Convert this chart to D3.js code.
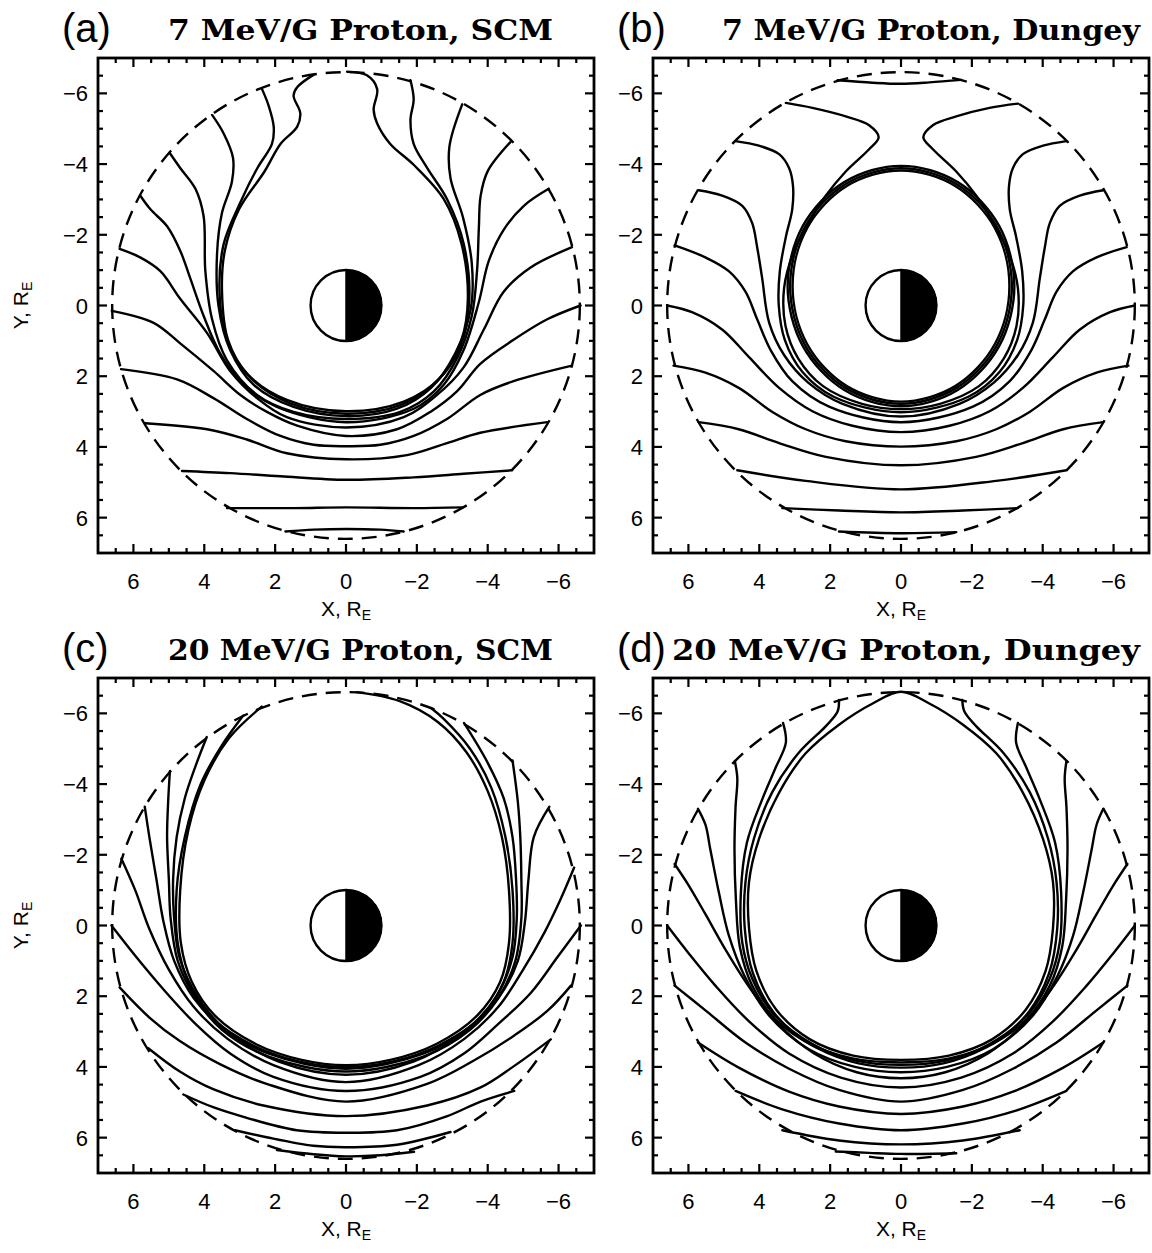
<!DOCTYPE html>
<html><head><meta charset="utf-8">
<script src="https://cdn.jsdelivr.net/npm/d3@7"></script>
<style>body{margin:0;background:#fff}</style></head>
<body><svg id="chart" width="1152" height="1253"></svg>
<script>
// ---------------- data ----------------
const panelLetters = ["(a)", "(b)", "(c)", "(d)"];
const panelTitles = ["7 MeV/G Proton, SCM", "7 MeV/G Proton, Dungey", "20 MeV/G Proton, SCM", "20 MeV/G Proton, Dungey"];
const xTickValues = [6, 4, 2, 0, -2, -4, -6];
const yTickValues = [-6, -4, -2, 0, 2, 4, 6];
const axisDomain = [-7, 7];
const boundaryRadius = 6.6;   // dashed outer boundary, R_E
const earthRadius = 1;        // R_E

// (a) 7 MeV/G proton, SCM : open drift paths [X, Y]
const pathsA = [
  [[1.71,6.39],[0.91,6.34],[0,6.32],[-0.97,6.34],[-1.63,6.39]],
  [[3.36,5.73],[1.48,5.73],[0,5.71],[-1.91,5.73],[-3.30,5.71]],
  [[4.63,4.68],[3.27,4.74],[1.85,4.83],[0,4.93],[-1.91,4.86],[-3.32,4.76],[-4.69,4.66]],
  [[5.67,3.33],[3.92,3.50],[2.80,3.79],[1.67,4.18],[0,4.35],[-1.72,4.23],[-2.85,3.89],[-3.79,3.60],[-5.68,3.30]],
  [[6.35,1.80],[4.77,2.09],[3.74,2.62],[2.80,3.21],[1.85,3.69],[0.91,3.94],[0,3.98],[-0.97,3.94],[-1.91,3.69],[-2.85,3.21],[-3.79,2.53],[-4.73,2.14],[-6.38,1.70]],
  [[6.61,0.15],[5.43,0.49],[4.68,1.07],[3.74,1.85],[2.98,2.53],[2.23,3.01],[1.38,3.40],[0,3.69],[-1.44,3.50],[-2.38,3.01],[-3.13,2.43],[-3.79,1.65],[-4.73,0.97],[-5.68,0.39],[-6.62,0]],
  [[6.39,-1.60],[5.81,-1.36],[5.24,-0.97],[4.68,-0.19],[3.92,0.78],[3.27,1.85],[2.51,2.62],[1.67,3.16],[0,3.45],[-1.63,3.16],[-2.57,2.53],[-3.32,1.75],[-3.89,0.68],[-4.45,-0.39],[-5.20,-1.07],[-6.38,-1.65]],
  [[5.81,-3.11],[5.52,-2.72],[5.05,-2.24],[4.68,-1.55],[4.40,-0.78],[4.02,0.29],[3.55,1.36],[2.89,2.24],[1.95,2.87],[0,3.30],[-1.91,2.92],[-2.76,2.24],[-3.32,1.26],[-3.75,-0.10],[-4.03,-1.26],[-4.45,-2.14],[-5.02,-2.82],[-5.72,-3.30]],
  [[4.98,-4.32],[4.68,-3.89],[4.25,-3.30],[4.02,-2.53],[3.97,-0.97],[3.78,0.39],[3.36,1.55],[2.51,2.53],[1.48,3.01],[0,3.21],[-1.53,3.01],[-2.48,2.43],[-3.15,1.46],[-3.55,0.30],[-3.70,-1.00],[-3.75,-2.20],[-3.80,-3.10],[-4.00,-3.80],[-4.64,-4.62]],
  [[3.78,-5.39],[3.45,-4.86],[3.19,-4.18],[3.22,-3.50],[3.50,-2.62],[3.64,-1.46],[3.60,0],[3.27,1.26],[2.61,2.24],[1.48,2.87],[0,3.13],[-1.44,2.92],[-2.40,2.33],[-3.08,1.36],[-3.52,0.10],[-3.55,-1.20],[-3.30,-2.50],[-2.95,-3.60],[-2.92,-4.50],[-3.28,-5.69]],
  [[2.37,-6.12],[2.18,-5.64],[2.04,-5.05],[2.09,-4.57],[2.50,-3.89],[2.98,-2.92],[3.45,-1.75],[3.57,-0.39],[3.36,0.97],[2.70,2.04],[1.57,2.77],[0,3.06],[-1.53,2.82],[-2.57,2.14],[-3.23,1.17],[-3.48,-0.19],[-3.32,-1.75],[-2.85,-3.01],[-2.29,-3.89],[-1.91,-4.57],[-1.82,-5.25],[-1.91,-5.83],[-1.82,-6.37]],
  [[0.91,-6.53],[1.38,-6.17],[1.48,-5.93],[1.29,-5.44],[1.38,-5.05],[1.85,-4.57],[2.30,-3.79],[3.02,-2.72],[3.42,-1.55],[3.50,-0.39],[3.33,0.97],[2.78,1.94],[1.67,2.67],[0,2.99],[-1.63,2.72],[-2.66,2.04],[-3.26,0.97],[-3.44,-0.19],[-3.26,-1.75],[-2.76,-3.01],[-1.91,-3.98],[-1.25,-4.57],[-0.88,-5.15],[-0.78,-5.54],[-0.88,-6.12],[-0.59,-6.51],[-0.03,-6.61]]
];
const loopsA = [];

// (b) 7 MeV/G proton, Dungey
const pathsB = [
  [[1.79,-6.37],[0.80,-6.30],[0,-6.27],[-0.80,-6.31],[-1.70,-6.38]],
  [[3.25,-5.73],[2.50,-5.59],[1.56,-5.35],[0.90,-5.10],[0.63,-4.76],[0.90,-4.42],[1.56,-3.79],[2.12,-3.11],[2.62,-2.33],[3.05,-1.46],[3.30,-0.49],[3.26,0.58],[2.90,1.50],[2.20,2.28],[1.10,2.78],[0,2.93],[-1.10,2.78],[-2.20,2.28],[-2.90,1.50],[-3.26,0.58],[-3.30,-0.49],[-3.05,-1.46],[-2.62,-2.33],[-2.12,-3.11],[-1.56,-3.79],[-0.90,-4.42],[-0.63,-4.76],[-0.90,-5.10],[-1.56,-5.35],[-2.50,-5.59],[-3.30,-5.71]],
  [[4.67,-4.65],[4.01,-4.52],[3.44,-4.28],[3.16,-3.89],[3.05,-3.40],[3.07,-2.72],[3.25,-1.94],[3.42,-0.97],[3.45,0],[3.28,0.97],[2.78,1.88],[1.90,2.58],[0,3.02],[-1.90,2.58],[-2.78,1.88],[-3.28,0.97],[-3.45,0],[-3.42,-0.97],[-3.25,-1.94],[-3.07,-2.72],[-3.05,-3.40],[-3.16,-3.89],[-3.44,-4.28],[-4.01,-4.52],[-4.67,-4.65]],
  [[5.71,-3.26],[5.05,-3.11],[4.48,-2.82],[4.20,-2.33],[4.06,-1.65],[3.92,-0.78],[3.72,0.49],[3.30,1.40],[2.62,2.18],[1.65,2.78],[0,3.14],[-1.65,2.78],[-2.62,2.18],[-3.30,1.40],[-3.72,0.49],[-3.92,-0.78],[-4.06,-1.65],[-4.20,-2.33],[-4.48,-2.82],[-5.05,-3.11],[-5.71,-3.26]],
  [[6.39,-1.70],[5.52,-1.36],[4.86,-0.97],[4.39,-0.39],[4.06,0.39],[3.68,1.26],[3.07,2.14],[2.03,2.86],[0,3.30],[-2.03,2.86],[-3.07,2.14],[-3.68,1.26],[-4.06,0.39],[-4.39,-0.39],[-4.86,-0.97],[-5.52,-1.36],[-6.37,-1.65]],
  [[6.60,0],[5.90,0.19],[5.05,0.68],[4.29,1.46],[3.44,2.33],[2.50,2.99],[1.37,3.40],[0,3.58],[-1.37,3.40],[-2.50,2.99],[-3.44,2.33],[-4.29,1.46],[-5.05,0.68],[-5.90,0.19],[-6.60,0]],
  [[6.42,1.70],[5.52,1.90],[4.58,2.33],[3.63,3.01],[2.69,3.50],[1.56,3.84],[0,3.99],[-1.56,3.84],[-2.69,3.50],[-3.63,3.01],[-4.58,2.33],[-5.52,1.90],[-6.42,1.70]],
  [[5.71,3.30],[4.58,3.50],[3.44,3.89],[2.12,4.28],[0,4.52],[-2.12,4.28],[-3.44,3.89],[-4.58,3.50],[-5.71,3.30]],
  [[4.62,4.66],[2.69,4.96],[0,5.20],[-2.69,4.96],[-4.67,4.66]],
  [[3.35,5.73],[1.75,5.80],[0,5.85],[-1.75,5.80],[-3.30,5.73]],
  [[1.75,6.39],[0,6.44],[-1.56,6.41]]
];
const loopsB = [
  [[0,-3.95],[1.60,-3.49],[2.77,-2.25],[3.20,-0.55],[2.77,1.15],[1.60,2.39],[0,2.85],[-1.60,2.39],[-2.77,1.15],[-3.20,-0.55],[-2.77,-2.25],[-1.60,-3.49]],
  [[0,-3.88],[1.57,-3.43],[2.71,-2.22],[3.13,-0.55],[2.71,1.12],[1.57,2.33],[0,2.78],[-1.57,2.33],[-2.71,1.12],[-3.13,-0.55],[-2.71,-2.22],[-1.57,-3.43]],
  [[0,-3.82],[1.53,-3.38],[2.65,-2.19],[3.06,-0.55],[2.65,1.09],[1.53,2.28],[0,2.72],[-1.53,2.28],[-2.65,1.09],[-3.06,-0.55],[-2.65,-2.19],[-1.53,-3.38]]
];

// (c) 20 MeV/G proton, SCM
const pathsC = [
  [[1.95,6.35],[0.92,6.47],[0,6.53],[-0.97,6.50],[-1.92,6.40]],
  [[3.13,5.79],[2.24,5.99],[0.92,6.23],[0,6.27],[-1.44,6.20],[-2.95,5.84]],
  [[4.59,4.78],[3.75,5.14],[2.80,5.44],[1.39,5.79],[0,5.86],[-1.44,5.79],[-2.86,5.39],[-3.80,4.98],[-4.75,4.68]],
  [[5.58,3.47],[4.69,4.13],[3.75,4.63],[2.33,5.09],[0,5.39],[-2.29,5.09],[-3.80,4.58],[-4.75,3.97],[-5.78,3.22]],
  [[6.39,1.75],[5.54,2.61],[4.69,3.27],[3.56,3.92],[2.24,4.48],[0,4.98],[-2.29,4.48],[-3.61,3.82],[-4.75,3.11],[-5.69,2.41],[-6.35,1.70]],
  [[6.62,0],[5.92,0.89],[5.07,1.90],[4.22,2.81],[3.27,3.62],[2.05,4.28],[0,4.68],[-2.10,4.28],[-3.33,3.62],[-4.27,2.81],[-5.22,1.90],[-5.97,0.89],[-6.63,0]],
  [[6.34,-1.89],[5.95,-1.00],[5.55,0.10],[5.00,1.25],[4.30,2.30],[3.35,3.20],[2.05,3.95],[0,4.43],[-2.05,3.95],[-3.35,3.20],[-4.30,2.30],[-5.00,1.25],[-5.60,0.20],[-6.05,-0.73],[-6.44,-1.64]],
  [[5.68,-3.36],[5.55,-2.50],[5.35,-1.30],[5.15,-0.10],[4.85,1.00],[4.30,2.05],[3.30,3.05],[1.90,3.85],[0,4.22],[-1.90,3.85],[-3.30,3.05],[-4.30,2.05],[-4.85,1.00],[-5.05,-0.10],[-5.15,-1.30],[-5.30,-2.50],[-5.74,-3.36]],
  [[4.97,-4.37],[5.02,-3.50],[5.05,-2.50],[5.00,-1.30],[4.95,-0.20],[4.75,1.00],[4.25,2.05],[3.50,2.95],[2.20,3.70],[0,4.13],[-2.20,3.70],[-3.50,2.95],[-4.30,2.05],[-4.78,1.00],[-4.95,-0.20],[-4.95,-1.30],[-4.92,-2.50],[-4.85,-3.50],[-4.70,-4.67]],
  [[3.93,-5.33],[4.25,-4.50],[4.55,-3.60],[4.78,-2.50],[4.88,-1.30],[4.85,-0.20],[4.70,0.90],[4.20,2.00],[3.45,2.90],[2.20,3.62],[0,4.05],[-2.20,3.62],[-3.45,2.90],[-4.25,2.00],[-4.70,0.90],[-4.82,-0.20],[-4.80,-1.30],[-4.70,-2.50],[-4.45,-3.60],[-4.00,-4.60],[-3.33,-5.73]],
  [[2.90,-5.94],[3.50,-5.10],[4.10,-4.00],[4.55,-2.50],[4.78,-1.00],[4.75,0.50],[4.45,1.60],[3.80,2.60],[2.60,3.40],[1.30,3.85],[0,4.00],[-1.30,3.85],[-2.60,3.40],[-3.80,2.60],[-4.45,1.60],[-4.70,0.50],[-4.70,-1.00],[-4.50,-2.50],[-4.10,-3.90],[-3.50,-5.00],[-2.75,-5.85],[-2.40,-6.15]],
  [[2.38,-6.19],[3.30,-5.30],[4.00,-4.10],[4.45,-2.70],[4.68,-1.00],[4.66,0.50],[4.35,1.60],[3.70,2.55],[2.55,3.35],[1.25,3.80],[0,3.95],[-1.25,3.80],[-2.55,3.35],[-3.70,2.55],[-4.35,1.60],[-4.60,0.50],[-4.60,-1.00],[-4.40,-2.50],[-4.00,-3.80],[-3.40,-4.90],[-2.60,-5.75],[-1.50,-6.35],[-0.30,-6.60]]
];
const loopsC = [];

// (d) 20 MeV/G proton, Dungey
const pathsD = [
  [[1.84,6.39],[0.90,6.43],[0,6.46],[-1.56,6.44]],
  [[3.35,5.79],[1.75,6.08],[0,6.19],[-1.75,6.08],[-3.35,5.79]],
  [[4.67,4.68],[3.35,5.20],[1.75,5.60],[0,5.79],[-1.75,5.60],[-3.35,5.20],[-4.67,4.68]],
  [[5.73,3.31],[4.58,4.02],[3.16,4.70],[1.75,5.12],[0,5.33],[-1.75,5.12],[-3.16,4.70],[-4.58,4.02],[-5.71,3.31]],
  [[6.39,1.70],[5.52,2.40],[4.39,3.31],[3.16,4.05],[1.75,4.65],[0,4.98],[-1.75,4.65],[-3.16,4.05],[-4.39,3.31],[-5.52,2.40],[-6.39,1.70]],
  [[6.60,0],[5.99,0.79],[5.24,1.70],[4.29,2.71],[3.16,3.62],[1.70,4.30],[0,4.58],[-1.70,4.30],[-3.16,3.62],[-4.29,2.71],[-5.24,1.70],[-5.99,0.79],[-6.60,0]],
  [[6.39,-1.74],[5.99,-1.13],[5.52,-0.32],[4.95,0.69],[4.30,1.72],[3.50,2.75],[2.45,3.62],[1.25,4.15],[0,4.32],[-1.25,4.15],[-2.45,3.62],[-3.50,2.75],[-4.30,1.72],[-4.95,0.69],[-5.52,-0.32],[-5.99,-1.13],[-6.39,-1.74]],
  [[5.73,-3.30],[5.52,-2.85],[5.38,-2.14],[5.14,-0.93],[4.86,0.28],[4.42,1.42],[3.72,2.55],[2.60,3.50],[1.30,4.00],[0,4.15],[-1.30,4.00],[-2.60,3.50],[-3.72,2.55],[-4.42,1.42],[-4.86,0.28],[-5.14,-0.93],[-5.38,-2.14],[-5.52,-2.85],[-5.71,-3.30]],
  [[4.69,-4.65],[4.62,-4.16],[4.67,-3.35],[4.70,-2.14],[4.66,-0.73],[4.55,0.60],[4.20,1.70],[3.50,2.70],[2.40,3.45],[1.20,3.90],[0,4.02],[-1.20,3.90],[-2.40,3.45],[-3.50,2.70],[-4.20,1.70],[-4.55,0.60],[-4.66,-0.73],[-4.70,-2.14],[-4.67,-3.35],[-4.62,-4.16],[-4.67,-4.65]],
  [[3.33,-5.73],[3.25,-5.17],[3.54,-4.46],[3.92,-3.56],[4.35,-2.34],[4.52,-0.93],[4.48,0.48],[4.20,1.50],[3.60,2.50],[2.50,3.35],[1.27,3.82],[0,3.94],[-1.27,3.82],[-2.50,3.35],[-3.60,2.50],[-4.20,1.50],[-4.48,0.48],[-4.52,-0.93],[-4.35,-2.34],[-3.92,-3.56],[-3.54,-4.46],[-3.25,-5.17],[-3.30,-5.73]],
  [[1.75,-6.38],[1.79,-6.05],[2.12,-5.64],[2.88,-4.89],[3.63,-3.78],[4.15,-2.46],[4.39,-1.23],[4.41,0.08],[4.18,1.35],[3.60,2.45],[2.62,3.32],[1.37,3.76],[0,3.87],[-1.37,3.76],[-2.62,3.32],[-3.60,2.45],[-4.18,1.35],[-4.41,0.08],[-4.39,-1.23],[-4.15,-2.46],[-3.63,-3.78],[-2.88,-4.89],[-2.12,-5.64],[-1.79,-6.05],[-1.73,-6.38]]
];
const loopsD = [
  [[0,-6.61],[0.80,-6.28],[1.75,-5.68],[2.69,-4.87],[3.44,-3.76],[4.01,-2.44],[4.29,-1.23],[4.29,0.08],[4.08,1.29],[3.52,2.38],[2.57,3.22],[1.35,3.68],[0,3.80],[-1.35,3.68],[-2.57,3.22],[-3.52,2.38],[-4.08,1.29],[-4.29,0.08],[-4.29,-1.23],[-4.01,-2.44],[-3.44,-3.76],[-2.69,-4.87],[-1.75,-5.68],[-0.80,-6.28]]
];

// ---------------- layout ----------------
const panels = [
  {left: 98,  top: 58,  letter: panelLetters[0], title: panelTitles[0], tx: 168, tw: 385, ylab: true,  paths: pathsA, loops: loopsA},
  {left: 653, top: 58,  letter: panelLetters[1], title: panelTitles[1], tx: 722, tw: 418, ylab: false, paths: pathsB, loops: loopsB},
  {left: 98,  top: 678, letter: panelLetters[2], title: panelTitles[2], tx: 168, tw: 385, ylab: true,  paths: pathsC, loops: loopsC},
  {left: 653, top: 678, letter: panelLetters[3], title: panelTitles[3], tx: 672, tw: 468, ylab: false, paths: pathsD, loops: loopsD}
];
const W = 496, H = 495;
const svg = d3.select("#chart");
const x = d3.scaleLinear().domain([axisDomain[1], axisDomain[0]]).range([0, W]);
const y = d3.scaleLinear().domain(axisDomain).range([0, H]);
const line = d3.line().x(d => x(d[0])).y(d => y(d[1])).curve(d3.curveCatmullRom.alpha(0.5));
const loopLine = d3.line().x(d => x(d[0])).y(d => y(d[1])).curve(d3.curveCatmullRomClosed.alpha(0.5));
const minorTicks = d3.range(-6.5, 7, 0.5);
const tickFont = "'Liberation Sans', Arial, sans-serif";
const fmt = v => (v < 0 ? "\u2212" + Math.abs(v) : String(v));
const curveWidth = 2.4;

panels.forEach((p, i) => {
  const g = svg.append("g").attr("transform", `translate(${p.left},${p.top})`);
  const clipId = "clip" + i;
  g.append("clipPath").attr("id", clipId).append("rect").attr("width", W).attr("height", H);
  const plot = g.append("g").attr("clip-path", `url(#${clipId})`);

  // dashed boundary
  plot.append("ellipse").attr("cx", x(0)).attr("cy", y(0))
    .attr("rx", x(0) - x(boundaryRadius)).attr("ry", y(boundaryRadius) - y(0))
    .attr("fill", "none").attr("stroke", "#000").attr("stroke-width", curveWidth)
    .attr("stroke-dasharray", "15,9");

  // drift paths
  plot.selectAll("path.open").data(p.paths).join("path").attr("class", "open")
    .attr("d", line).attr("fill", "none").attr("stroke", "#000")
    .attr("stroke-width", curveWidth).attr("stroke-linejoin", "round").attr("stroke-linecap", "round");
  plot.selectAll("path.loop").data(p.loops).join("path").attr("class", "loop")
    .attr("d", loopLine).attr("fill", "none").attr("stroke", "#000")
    .attr("stroke-width", curveWidth).attr("stroke-linejoin", "round");

  // Earth
  const cx = x(0), cy = y(0), r = x(0) - x(earthRadius);
  plot.append("circle").attr("cx", cx).attr("cy", cy).attr("r", r)
    .attr("fill", "#fff").attr("stroke", "#000").attr("stroke-width", 2.4);
  plot.append("path").attr("d", `M${cx},${cy - r} A${r},${r} 0 0 1 ${cx},${cy + r} Z`)
    .attr("fill", "#000").attr("stroke", "#000").attr("stroke-width", 1.5);

  // frame
  g.append("rect").attr("width", W).attr("height", H).attr("fill", "none")
    .attr("stroke", "#000").attr("stroke-width", 2.8);

  // ticks (inward, all four sides)
  const tg = g.append("g").attr("stroke", "#000").attr("stroke-width", 2.2);
  minorTicks.forEach(v => {
    const major = Math.abs(v % 2) < 1e-9 && Math.abs(v) <= 6;
    const L = major ? 9 : 5;
    tg.append("line").attr("x1", x(v)).attr("x2", x(v)).attr("y1", H).attr("y2", H - L);
    tg.append("line").attr("x1", x(v)).attr("x2", x(v)).attr("y1", 0).attr("y2", L);
    tg.append("line").attr("y1", y(v)).attr("y2", y(v)).attr("x1", 0).attr("x2", L);
    tg.append("line").attr("y1", y(v)).attr("y2", y(v)).attr("x1", W).attr("x2", W - L);
  });

  // tick labels
  g.selectAll("text.xt").data(xTickValues).join("text").attr("class", "xt")
    .attr("x", d => x(d)).attr("y", H + 36).attr("text-anchor", "middle")
    .attr("font-family", tickFont).attr("font-size", 22).text(fmt);
  g.selectAll("text.yt").data(yTickValues).join("text").attr("class", "yt")
    .attr("x", -10).attr("y", d => y(d) + 8).attr("text-anchor", "end")
    .attr("font-family", tickFont).attr("font-size", 22).text(fmt);

  // axis titles
  const xl = g.append("text").attr("x", W / 2).attr("y", H + 63).attr("text-anchor", "middle")
    .attr("font-family", tickFont).attr("font-size", 21);
  xl.append("tspan").text("X, R");
  xl.append("tspan").attr("font-size", 14).attr("dy", 4).text("E");
  if (p.ylab) {
    const yl = g.append("text").attr("transform", `translate(${-70},${H / 2}) rotate(-90)`)
      .attr("text-anchor", "middle").attr("font-family", tickFont).attr("font-size", 21);
    yl.append("tspan").text("Y, R");
    yl.append("tspan").attr("font-size", 14).attr("dy", 4).text("E");
  }

  // panel letter and title
  svg.append("text").attr("x", p.left - 36).attr("y", p.top - 16)
    .attr("font-family", tickFont).attr("font-size", 40).attr("font-weight", 300).text(p.letter);
  svg.append("text").attr("x", p.tx).attr("y", p.top - 18)
    .attr("font-family", "'DejaVu Serif', serif").attr("font-weight", "bold").attr("font-size", 27)
    .attr("textLength", p.tw).attr("lengthAdjust", "spacingAndGlyphs").text(p.title);
});
</script>
</body></html>
